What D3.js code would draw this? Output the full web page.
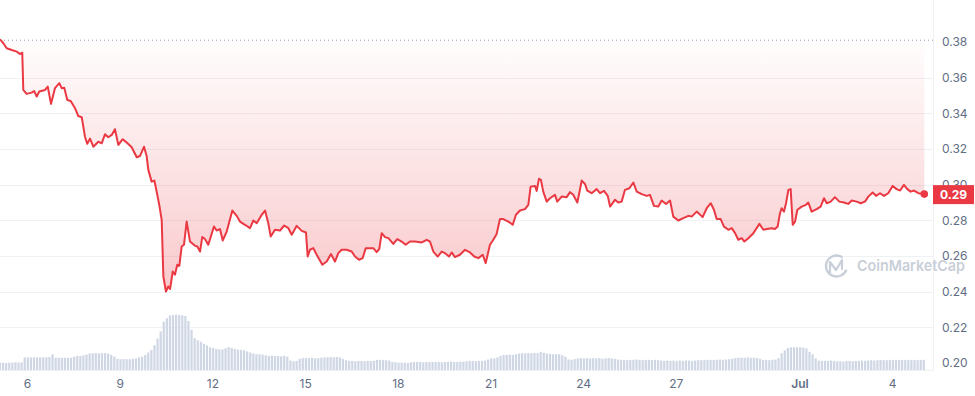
<!DOCTYPE html>
<html>
<head>
<meta charset="utf-8">
<script src="https://cdn.jsdelivr.net/npm/d3@7"></script>
<style>
  html, body { margin: 0; padding: 0; background: #fff; }
  svg { display: block; font-family: Inter, "Noto Sans", sans-serif; }
</style>
</head>
<body>
<svg id="chart" width="975" height="396"></svg>
<script>
// ---------- DATA ----------
const startTimeUTC = Date.UTC(2023, 5, 5, 3, 0);   // Jun 5 03:00
const endTimeUTC   = Date.UTC(2023, 6, 5, 1, 0);   // Jul 5 01:00
const referencePrice = 0.381;
const lastPriceLabel = "0.29";

// hours since start
const priceHours = [
  0,2.6,5.2,9.1,13.0,15.5,17.3,18.1,20.7,24.6,26.6,28.5,30.5,35.0,37.1,39.6,42.7,46.1,47.9,49.9,
  52.3,54.9,58.3,60.8,63.5,66.0,67.8,69.9,72.5,76.4,79.0,81.6,84.1,86.8,89.3,91.9,95.3,98.4,102.3,106.2,
  108.8,111.9,113.9,115.2,117.8,119.9,121.7,123.7,125.6,126.9,128.9,130.7,132.1,134.2,135.9,137.7,139.3,141.1,142.9,145.0,
  147.6,151.5,153.3,155.4,157.1,159.2,161.8,166.2,168.3,170.9,173.0,176.1,180.5,183.9,186.4,190.3,194.2,196.8,199.4,203.3,
  205.9,208.4,210.3,213.6,217.5,220.8,224.0,226.6,230.5,234.4,237.7,239.0,240.8,243.4,246.0,250.4,253.8,257.1,260.2,262.8,
  265.4,269.3,273.2,275.8,278.9,281.7,284.1,287.4,290.0,292.6,294.6,296.5,299.1,301.7,305.5,308.6,312.0,315.1,318.5,322.4,
  327.6,331.5,334.0,336.6,340.0,343.1,345.7,348.8,350.9,353.4,357.3,361.2,365.1,368.4,371.6,375.0,377.3,380.6,383.2,385.8,
  388.4,390.9,394.9,398.3,400.8,403.9,407.8,410.4,412.2,415.6,416.9,418.7,420.2,422.0,424.7,427.2,431.1,432.9,436.3,440.2,
  442.8,445.3,448.5,451.9,454.4,456.2,459.6,463.5,466.1,469.2,472.1,473.9,477.7,480.3,482.9,485.5,488.9,492.0,494.6,498.5,
  502.4,504.9,508.0,511.4,514.0,517.4,520.5,523.0,526.9,530.8,534.7,537.3,541.2,545.8,549.0,552.1,554.6,556.7,559.8,562.4,
  565.8,568.4,571.0,573.5,576.2,578.2,581.3,585.2,589.9,593.0,595.6,599.5,602.0,604.1,605.9,607.2,609.0,610.6,612.4,614.2,
  615.8,617.6,619.4,622.8,626.1,627.9,630.5,634.4,637.5,640.1,642.2,645.3,648.6,652.0,655.6,658.9,661.6,665.5,668.6,671.9,
  674.5,677.9,680.5,683.6,686.7,690.0,693.4,696.5,699.2,702.2,704.8,707.4,710.0,713.4,718.0
];
const priceValues = [
  0.3815,0.3793,0.3765,0.3755,0.3746,0.3733,0.3740,0.3531,0.3509,0.3516,0.3525,0.3494,0.3522,0.3531,0.3550,0.3453,0.3541,0.3569,0.3541,0.3544,
  0.3475,0.3469,0.3429,0.3385,0.3378,0.3269,0.3229,0.3258,0.3213,0.3241,0.3232,0.3283,0.3266,0.3279,0.3311,0.3223,0.3255,0.3236,0.3210,0.3154,
  0.3161,0.3213,0.3161,0.3083,0.3017,0.3023,0.2961,0.2887,0.2803,0.2485,0.2401,0.2429,0.2415,0.2513,0.2495,0.2551,0.2545,0.2653,0.2663,0.2793,
  0.2681,0.2657,0.2653,0.2625,0.2706,0.2695,0.2663,0.2765,0.2743,0.2751,0.2687,0.2737,0.2855,0.2825,0.2793,0.2775,0.2756,0.2799,0.2784,0.2831,
  0.2855,0.2784,0.2709,0.2747,0.2743,0.2771,0.2756,0.2719,0.2769,0.2741,0.2732,0.2597,0.2635,0.2644,0.2607,0.2551,0.2569,0.2611,0.2569,0.2616,
  0.2635,0.2635,0.2625,0.2597,0.2579,0.2588,0.2644,0.2644,0.2644,0.2622,0.2639,0.2728,0.2706,0.2700,0.2668,0.2695,0.2681,0.2663,0.2681,0.2681,
  0.2676,0.2691,0.2681,0.2625,0.2597,0.2625,0.2616,0.2597,0.2620,0.2594,0.2607,0.2635,0.2620,0.2597,0.2588,0.2607,0.2560,0.2663,0.2691,0.2724,
  0.2807,0.2807,0.2793,0.2775,0.2831,0.2855,0.2863,0.2887,0.2989,0.2993,0.2965,0.3033,0.3027,0.2961,0.2905,0.2924,0.2943,0.2905,0.2933,0.2930,
  0.2958,0.2943,0.2900,0.3023,0.3004,0.2967,0.2952,0.2975,0.2952,0.2965,0.2937,0.2877,0.2915,0.2900,0.2905,0.2971,0.2980,0.3012,0.2961,0.2947,
  0.2937,0.2943,0.2881,0.2877,0.2911,0.2892,0.2911,0.2821,0.2799,0.2812,0.2825,0.2821,0.2849,0.2818,0.2868,0.2896,0.2859,0.2807,0.2807,0.2765,
  0.2747,0.2756,0.2728,0.2691,0.2700,0.2681,0.2700,0.2728,0.2780,0.2747,0.2751,0.2756,0.2751,0.2765,0.2840,0.2868,0.2849,0.2896,0.2971,0.2975,
  0.2775,0.2793,0.2859,0.2877,0.2887,0.2900,0.2849,0.2863,0.2877,0.2924,0.2896,0.2905,0.2930,0.2905,0.2900,0.2892,0.2911,0.2905,0.2896,0.2905,
  0.2933,0.2956,0.2937,0.2952,0.2937,0.2952,0.2993,0.2975,0.2967,0.2999,0.2975,0.2961,0.2967,0.2952,0.2947
];

// volume bars (millions, estimated), one bar every 2.4 hours
const volumeStepHours = 2.4;
const volumeValues = [
  2.1,2.1,2.0,2.1,2.1,2.2,2.1,2.2,3.6,3.6,
  3.6,3.6,3.6,3.6,3.6,3.6,3.7,4.5,3.5,3.5,
  3.5,3.5,3.5,3.5,3.8,4.0,4.0,4.2,4.4,4.7,
  4.8,4.8,4.8,4.8,4.8,4.7,4.3,3.8,3.2,3.1,
  3.1,3.1,3.1,3.2,3.3,3.6,3.8,4.3,5.0,5.7,
  7.1,9.0,11.0,13.8,14.8,15.6,15.7,15.8,15.7,15.6,
  15.4,14.0,11.5,9.1,8.5,8.1,7.5,7.0,6.5,6.3,
  6.0,5.9,5.9,6.2,6.5,6.3,6.0,5.8,5.7,5.6,
  5.3,5.0,4.7,4.5,4.5,4.4,4.2,4.0,4.1,4.0,
  4.0,3.9,4.0,3.8,2.7,2.5,2.6,3.2,3.4,3.4,
  3.4,3.5,3.3,3.4,3.5,3.6,3.6,3.7,3.6,3.7,
  3.6,3.2,2.8,2.6,2.6,2.5,2.6,2.6,2.5,2.6,
  2.6,2.6,2.9,2.9,2.8,2.8,2.7,2.3,2.2,2.1,
  2.1,2.1,2.0,2.2,2.3,2.3,2.3,2.2,2.3,2.3,
  2.3,2.3,2.3,2.2,2.3,2.3,2.4,2.3,2.3,2.4,
  2.4,2.5,2.6,2.6,2.5,2.6,2.6,2.7,3.0,3.3,
  3.3,3.6,4.0,4.3,4.3,4.4,4.3,4.5,4.7,4.8,
  4.8,4.8,4.8,4.9,4.8,5.2,4.9,4.7,4.6,4.5,
  4.5,4.5,4.2,3.8,3.0,2.9,3.1,3.3,3.4,3.3,
  3.4,3.3,3.4,3.3,3.4,3.2,3.3,3.4,3.3,3.2,
  3.0,2.9,2.9,2.8,2.9,2.9,3.0,2.9,2.8,2.9,
  2.9,2.8,2.9,2.8,2.7,2.6,2.7,2.6,2.7,2.6,
  2.7,2.6,2.7,2.7,2.6,2.7,2.8,2.9,2.8,2.9,
  2.9,2.9,2.9,3.0,2.9,3.0,3.1,3.2,3.4,3.5,
  3.5,3.5,3.6,3.5,3.5,3.4,3.2,2.9,2.9,2.8,
  2.9,3.0,3.4,4.8,5.6,6.3,6.5,6.5,6.5,6.5,
  6.4,6.2,5.2,4.5,3.3,2.7,2.6,2.6,2.6,2.7,
  2.6,2.5,2.5,2.4,2.6,2.6,2.5,2.6,2.6,2.7,
  2.6,2.7,2.8,2.7,2.8,2.9,2.8,2.8,2.9,2.8,
  2.9,2.8,2.9,2.9,2.8,2.9,2.9,2.8,2.9,2.9
];

const yTickValues = [0.20, 0.22, 0.24, 0.26, 0.28, 0.30, 0.32, 0.34, 0.36, 0.38];
const xTickDates = [
  Date.UTC(2023,5,6), Date.UTC(2023,5,9), Date.UTC(2023,5,12), Date.UTC(2023,5,15),
  Date.UTC(2023,5,18), Date.UTC(2023,5,21), Date.UTC(2023,5,24), Date.UTC(2023,5,27),
  Date.UTC(2023,6,1), Date.UTC(2023,6,4)
];
const xTickLabels = ["6","9","12","15","18","21","24","27","Jul","4"];
const boldTickLabels = ["Jul"];

// ---------- LAYOUT ----------
const W = 975, H = 396;
const plotRight = 933;
const lastX = 924.3;
const bottomY = 370;
const RED = "#ea3943";
const GRID = "#eff2f5";
const TEXT = "#616e85";

const HOUR = 3600 * 1000;
const price = priceHours.map((h, i) => ({ t: new Date(startTimeUTC + h * HOUR), v: priceValues[i] }));
const volume = volumeValues.map((v, i) => ({ t: new Date(startTimeUTC + i * volumeStepHours * HOUR), v }));

const x = d3.scaleUtc().domain([new Date(startTimeUTC), new Date(endTimeUTC)]).range([0, lastX]);
const y = d3.scaleLinear().domain([0.20, 0.38]).range([363, 42]);
const yVol = d3.scaleLinear().domain([0, 16]).range([bottomY, bottomY - 56]);

const svg = d3.select("#chart");
const defs = svg.append("defs");
const grad = defs.append("linearGradient")
  .attr("id", "fillGrad").attr("gradientUnits", "userSpaceOnUse")
  .attr("x1", 0).attr("x2", 0).attr("y1", y(referencePrice)).attr("y2", y(0.24));
grad.append("stop").attr("offset", 0).attr("stop-color", RED).attr("stop-opacity", 0.01);
grad.append("stop").attr("offset", 1).attr("stop-color", RED).attr("stop-opacity", 0.27);

// gridlines
svg.append("g").selectAll("line")
  .data(yTickValues.filter(v => v > 0.205 && v < 0.375))
  .join("line")
  .attr("x1", 0).attr("x2", plotRight)
  .attr("y1", d => Math.round(y(d)) + 0.5).attr("y2", d => Math.round(y(d)) + 0.5)
  .attr("stroke", GRID).attr("stroke-width", 1);

// right border & bottom line
svg.append("line").attr("x1", plotRight + 0.5).attr("x2", plotRight + 0.5).attr("y1", 0).attr("y2", bottomY)
  .attr("stroke", GRID);
svg.append("line").attr("x1", 0).attr("x2", plotRight).attr("y1", bottomY + 0.5).attr("y2", bottomY + 0.5)
  .attr("stroke", GRID);

// watermark
const wm = svg.append("g").attr("opacity", 1);
wm.append("circle").attr("cx", 836.5).attr("cy", 266).attr("r", 10.5)
  .attr("fill", "none").attr("stroke", "#c9cfd8").attr("stroke-width", 2.4)
  .attr("stroke-dasharray", "52 14").attr("transform", "rotate(20 836.5 266)");
wm.append("path").attr("d", "M830,273 L830,262 L836,270 L842,260 L842,269")
  .attr("fill", "none").attr("stroke", "#c9cfd8").attr("stroke-width", 2.2)
  .attr("stroke-linejoin", "round").attr("stroke-linecap", "round");
wm.append("text").attr("x", 857).attr("y", 271).text("CoinMarketCap")
  .attr("font-size", 15).attr("font-weight", 600).attr("fill", "#c9cfd8")
  .attr("textLength", 108).attr("lengthAdjust", "spacingAndGlyphs");

// volume bars
svg.append("g").selectAll("rect").data(volume).join("rect")
  .attr("x", d => x(d.t) - 1.1).attr("width", 2.2)
  .attr("y", d => yVol(d.v)).attr("height", d => bottomY - yVol(d.v))
  .attr("fill", "#cfd6e4");

// reference dotted line
svg.append("line").attr("x1", 0).attr("x2", plotRight)
  .attr("y1", y(referencePrice)).attr("y2", y(referencePrice))
  .attr("stroke", "#8f9bb3").attr("stroke-width", 1).attr("stroke-dasharray", "1 3");

// area
const area = d3.area().x(d => x(d.t)).y0(y(referencePrice)).y1(d => y(d.v));
svg.append("path").datum(price).attr("d", area).attr("fill", "url(#fillGrad)");

// line
const line = d3.line().x(d => x(d.t)).y(d => y(d.v));
svg.append("path").datum(price).attr("d", line)
  .attr("fill", "none").attr("stroke", RED).attr("stroke-width", 2)
  .attr("stroke-linejoin", "round");

// end dot
const last = price[price.length - 1];
svg.append("circle").attr("cx", x(last.t)).attr("cy", y(last.v)).attr("r", 3.8).attr("fill", RED);

// y axis labels
const yAxis = d3.axisRight(y).tickValues(yTickValues).tickFormat(d3.format(".2f")).tickSize(0).tickPadding(9);
const gy = svg.append("g").attr("transform", `translate(${plotRight},0)`).call(yAxis);
gy.select(".domain").remove();
gy.selectAll("text").attr("font-size", 12).attr("fill", TEXT).attr("font-family", "Inter, sans-serif");

// x axis labels
const xAxis = d3.axisBottom(x).tickValues(xTickDates.map(d => new Date(d)))
  .tickFormat((d, i) => xTickLabels[i]).tickSize(0).tickPadding(9);
const gx = svg.append("g").attr("transform", `translate(0,${bottomY})`).call(xAxis);
gx.select(".domain").remove();
gx.selectAll("text").attr("font-size", 12).attr("fill", TEXT).attr("font-family", "Inter, sans-serif")
  .attr("font-weight", d => boldTickLabels.includes(xTickLabels[xTickDates.indexOf(+d)]) ? 600 : 400);

// last price label
const ly = y(last.v);
svg.append("rect").attr("x", plotRight).attr("y", ly - 9).attr("width", 41).attr("height", 19).attr("fill", RED);
svg.append("text").attr("x", plotRight + 20.5).attr("y", ly + 4.5).attr("text-anchor", "middle")
  .attr("font-size", 12).attr("font-weight", 700).attr("fill", "#fff").text(lastPriceLabel);
</script>
</body>
</html>
